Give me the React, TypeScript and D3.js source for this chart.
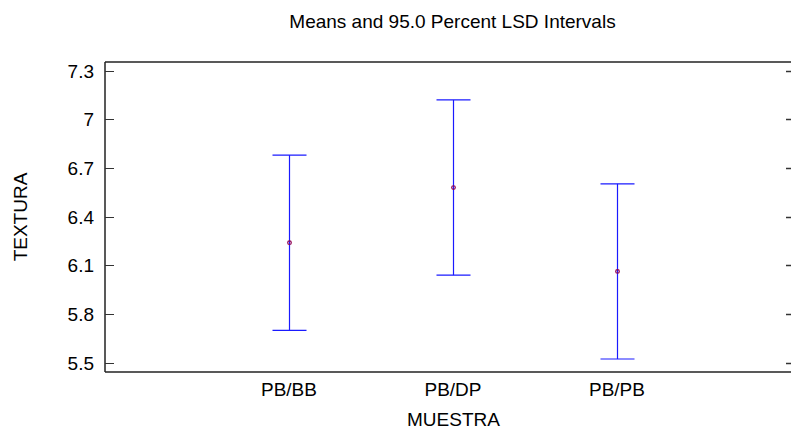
import React, { useEffect, useRef } from 'react';
import * as d3 from 'd3';

const categories = ['PB/BB', 'PB/DP', 'PB/PB'];
const means = [6.24, 6.58, 6.063];
const lower = [5.70, 6.04, 5.523];
const upper = [6.78, 7.12, 6.603];
const yTicks = [5.5, 5.8, 6.1, 6.4, 6.7, 7.0, 7.3];

const App = () => {
  const ref = useRef<SVGSVGElement>(null);

  useEffect(() => {
    const svg = d3.select(ref.current);
    const width = 791;
    const height = 429;
    const left = 105;
    const right = 790;
    const top = 62;
    const bottom = 372;
    const font = '"Liberation Sans", Arial, sans-serif';
    const fs = 19;

    svg.attr('width', width).attr('height', height);

    const y = d3.scaleLinear().domain([5.443, 7.354]).range([bottom, top]);
    // category positions: index -> px
    const x = d3.scaleLinear().domain([-1.122, 3.055]).range([left, right]);

    // frame
    const frame = svg.append('g').attr('stroke', '#222').attr('stroke-width', 1.5);
    frame.append('line').attr('x1', left).attr('x2', right + 1).attr('y1', top).attr('y2', top);
    frame.append('line').attr('x1', left).attr('x2', right + 1).attr('y1', bottom).attr('y2', bottom);
    frame.append('line').attr('x1', left).attr('x2', left).attr('y1', top).attr('y2', bottom);

    // y ticks both sides
    const ticks = svg.append('g');
    yTicks.forEach((t) => {
      const ty = Math.round(y(t)) + 0.5;
      ticks.append('line').attr('x1', left).attr('x2', left + 9).attr('y1', ty).attr('y2', ty)
        .attr('stroke', '#333').attr('stroke-width', 1);
      ticks.append('line').attr('x1', right - 4).attr('x2', right + 1).attr('y1', ty).attr('y2', ty)
        .attr('stroke', '#333').attr('stroke-width', 1.5);
      ticks.append('text')
        .attr('x', left - 11)
        .attr('y', ty)
        .attr('dy', '0.35em')
        .attr('text-anchor', 'end')
        .attr('font-family', font)
        .attr('font-size', fs)
        .attr('fill', '#000')
        .text(d3.format('~g')(t));
    });

    // x labels
    categories.forEach((c, i) => {
      svg.append('text')
        .attr('x', x(i))
        .attr('y', 396)
        .attr('text-anchor', 'middle')
        .attr('font-family', font)
        .attr('font-size', fs)
        .text(c);
    });

    // intervals
    const g = svg.append('g');
    categories.forEach((c, i) => {
      const cx = Math.round(x(i)) + 0.5;
      g.append('line').attr('x1', cx).attr('x2', cx).attr('y1', y(upper[i])).attr('y2', y(lower[i]))
        .attr('stroke', '#1a1aff').attr('stroke-width', 1.2);
      [upper[i], lower[i]].forEach((v) => {
        g.append('line').attr('x1', cx - 17).attr('x2', cx + 17).attr('y1', y(v)).attr('y2', y(v))
          .attr('stroke', '#1a1aff').attr('stroke-width', 1.2);
      });
      g.append('circle').attr('cx', cx).attr('cy', y(means[i])).attr('r', 1.8)
        .attr('fill', 'none').attr('stroke', '#900050').attr('stroke-width', 1.2);
    });

    // titles
    svg.append('text')
      .attr('x', 452.5).attr('y', 27.5)
      .attr('text-anchor', 'middle')
      .attr('font-family', font)
      .attr('font-size', fs)
      .text('Means and 95.0 Percent LSD Intervals');

    svg.append('text')
      .attr('x', 453.5).attr('y', 426)
      .attr('text-anchor', 'middle')
      .attr('font-family', font)
      .attr('font-size', fs)
      .text('MUESTRA');

    svg.append('text')
      .attr('transform', `translate(27,${(top + bottom) / 2}) rotate(-90)`)
      .attr('text-anchor', 'middle')
      .attr('font-family', font)
      .attr('font-size', fs)
      .text('TEXTURA');

    return () => {
      svg.selectAll('*').remove();
    };
  }, []);

  return <svg ref={ref} style={{ position: 'absolute', left: 0, top: 0 }}></svg>;
};

export default App;
